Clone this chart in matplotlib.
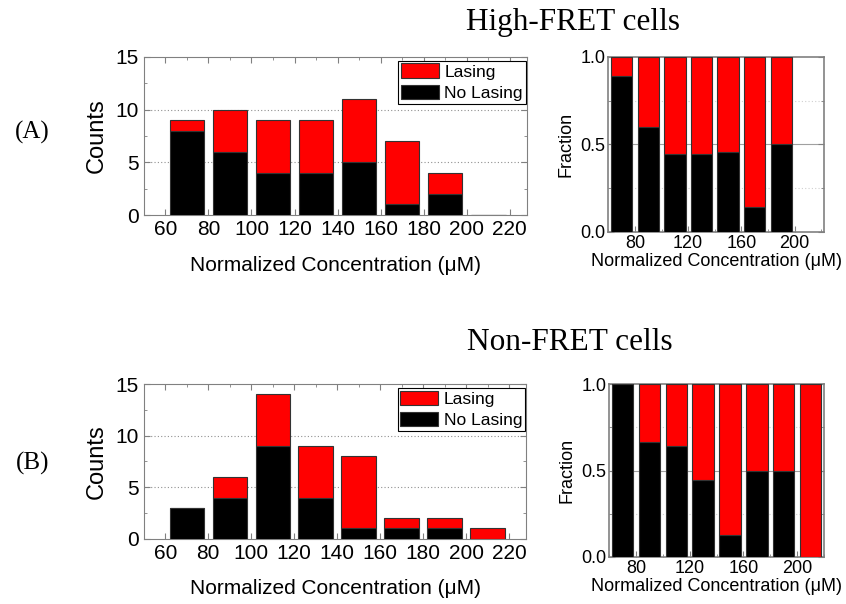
import matplotlib
matplotlib.use('Agg')
import matplotlib.pyplot as plt
from matplotlib.ticker import MultipleLocator
import numpy as np

plt.rcParams['font.family'] = ['Liberation Sans', 'DejaVu Sans']

# bin centres (uM)
conc = [70, 90, 110, 130, 150, 170, 190, 210]

# High-FRET cells (counts per bin)
hi_nolasing = [8, 6, 4, 4, 5, 1, 2, 0]
hi_lasing = [1, 4, 5, 5, 6, 6, 2, 0]

# Non-FRET cells (counts per bin)
non_nolasing = [3, 4, 9, 4, 1, 1, 1, 0]
non_lasing = [0, 2, 5, 5, 7, 1, 1, 1]

red = '#ff0000'
edge = '#333333'
spine_col = '#808080'
xlab = 'Normalized Concentration (\u03bcM)'


def count_panel(ax, nolas, las):
    nolas = np.array(nolas)
    las = np.array(las)
    b1 = ax.bar(conc, nolas, width=16, color='black', edgecolor=edge, lw=0.8, zorder=3)
    b2 = ax.bar(conc, las, bottom=nolas, width=16, color=red, edgecolor=edge, lw=0.8, zorder=3)
    ax.set_xlim(50, 228)
    ax.set_ylim(0, 15)
    ax.set_xticks(range(60, 221, 20))
    ax.xaxis.set_minor_locator(MultipleLocator(10))
    ax.yaxis.set_major_locator(MultipleLocator(5))
    ax.yaxis.set_minor_locator(MultipleLocator(2.5))
    ax.tick_params(which='both', direction='in', top=True, right=True, colors=spine_col,
                   labelcolor='black', labelsize=15)
    ax.tick_params(which='major', length=4)
    ax.tick_params(which='minor', length=2.5, bottom=False)
    for s in ax.spines.values():
        s.set_color(spine_col)
    for y in [5, 10]:
        ax.axhline(y, color='#909090', ls=(0, (1, 2)), lw=0.8, zorder=1)
    ax.set_ylabel('Counts', fontsize=17, labelpad=6)
    ax.set_xlabel(xlab, fontsize=15, labelpad=12)
    leg = ax.legend([b2, b1], ['Lasing', 'No Lasing'], loc='upper right',
                    bbox_to_anchor=(0.996, 0.975), fontsize=12.5, frameon=True, fancybox=False,
                    framealpha=1, edgecolor='black', handlelength=2.2, handleheight=0.9,
                    borderpad=0.15, labelspacing=0.3, handletextpad=0.3, borderaxespad=0)
    leg.get_frame().set_linewidth(0.8)


def frac_panel(ax, nolas, las, xmax):
    nolas = np.array(nolas, dtype=float)
    las = np.array(las, dtype=float)
    tot = nolas + las
    keep = tot > 0
    x = np.array(conc)[keep]
    f = nolas[keep] / tot[keep]
    ax.bar(x, f, width=16, color='black', edgecolor=edge, lw=0.8, zorder=3)
    ax.bar(x, 1 - f, bottom=f, width=16, color=red, edgecolor=edge, lw=0.8, zorder=3)
    ax.set_xlim(60, xmax)
    ax.set_ylim(0, 1)
    ax.set_xticks([80, 120, 160, 200])
    ax.xaxis.set_minor_locator(MultipleLocator(20))
    ax.set_yticks([0, 0.5, 1.0])
    ax.set_yticklabels(['0.0', '0.5', '1.0'])
    ax.yaxis.set_minor_locator(MultipleLocator(0.25))
    ax.tick_params(which='both', direction='in', right=True, colors=spine_col,
                   labelcolor='black', labelsize=13)
    ax.tick_params(which='major', length=4, pad=2)
    ax.tick_params(which='minor', length=2.5)
    for s in ax.spines.values():
        s.set_color(spine_col)
        s.set_linewidth(1.2)
    ax.axhline(0.5, color='#a0a0a0', lw=0.8, zorder=1)
    for y in [0.25, 0.75]:
        ax.axhline(y, color='#d0d0d0', ls=(0, (1, 2)), lw=0.8, zorder=1)
    ax.set_ylabel('Fraction', fontsize=13, labelpad=4)
    ax.set_xlabel(xlab, fontsize=13, labelpad=1)


fig = plt.figure(figsize=(8.46, 6.04), dpi=100)

ax1 = fig.add_axes([0.170, 0.644, 0.453, 0.262])
ax2 = fig.add_axes([0.719, 0.616, 0.255, 0.290])
ax3 = fig.add_axes([0.170, 0.108, 0.452, 0.256])
ax4 = fig.add_axes([0.720, 0.078, 0.254, 0.286])

count_panel(ax1, hi_nolasing, hi_lasing)
frac_panel(ax2, hi_nolasing, hi_lasing, 222)
count_panel(ax3, non_nolasing, non_lasing)
frac_panel(ax4, non_nolasing, non_lasing, 220)

fig.text(0.677, 0.950, 'High-FRET cells', family='Liberation Serif', fontsize=22.5,
         ha='center', va='baseline')
fig.text(0.674, 0.4205, 'Non-FRET cells', family='Liberation Serif', fontsize=22.5,
         ha='center', va='baseline')
fig.text(0.038, 0.78, '(A)', family='Liberation Serif', fontsize=18, ha='center', va='center')
fig.text(0.038, 0.232, '(B)', family='Liberation Serif', fontsize=18, ha='center', va='center')

fig.savefig('out.png', dpi=100)
